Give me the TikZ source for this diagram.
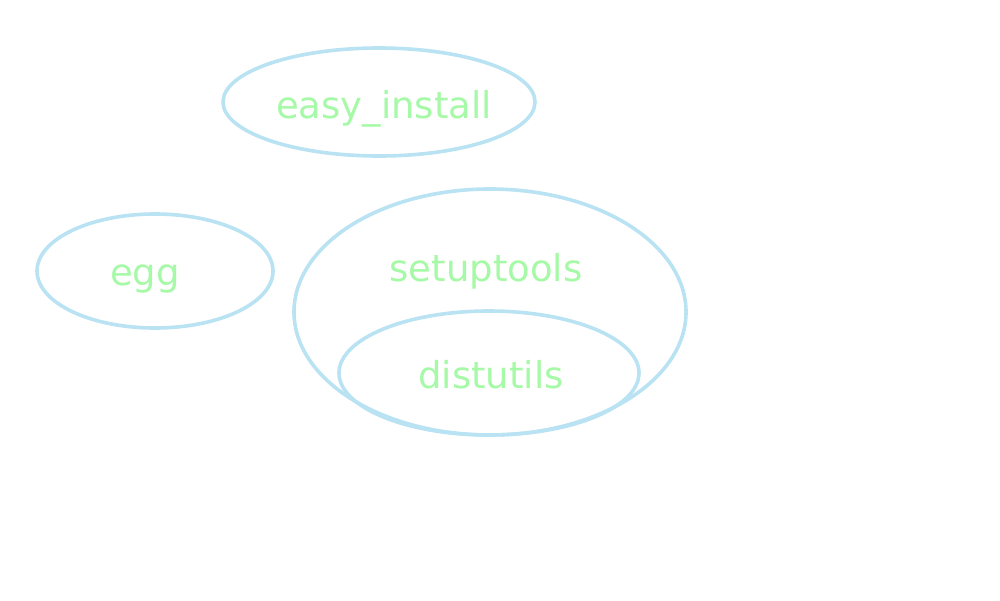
\documentclass[tikz,border=0pt]{standalone}
\usepackage{fontspec}
\setmainfont{DejaVu Sans}
\usetikzlibrary{shapes.geometric}
\definecolor{ringblue}{HTML}{B9E2F2}
\definecolor{labelgreen}{HTML}{A6F9A6}
\tikzset{
  ring/.style={ellipse, draw=ringblue, line width=3.6pt, inner sep=0pt, fill=none},
  lbl/.style={text=labelgreen, font=\fontsize{37}{42}\selectfont, anchor=base, inner sep=0pt}
}
\begin{document}
\begin{tikzpicture}[x=1pt,y=-1pt]
\useasboundingbox (0,0) rectangle (1000,600);
\node[ring, minimum width=312pt, minimum height=108pt] (easyR) at (379,102) {};
\node[ring, minimum width=236pt, minimum height=114pt] (eggR) at (155,271) {};
\node[ring, minimum width=392pt, minimum height=246pt] (setupR) at (490,312) {};
\node[ring, minimum width=300pt, minimum height=124pt] (distR) at (489,373) {};
\node[lbl] (easy) at (384,118) {easy\_install};
\node[lbl] (egg) at (145,285) {egg};
\node[lbl] (setup) at (486,281) {setuptools};
\node[lbl] (dist) at (491,388) {distutils};
\end{tikzpicture}
\end{document}
